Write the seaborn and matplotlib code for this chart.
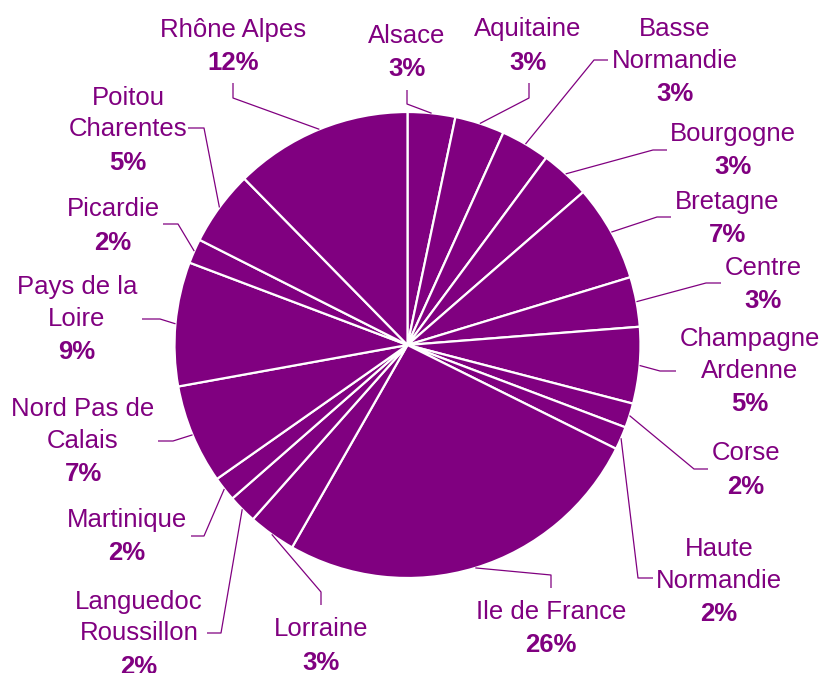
import numpy as np
import matplotlib
matplotlib.use("Agg")
import matplotlib.pyplot as plt
import seaborn as sns

W, H = 825, 673
PURPLE = "#800080"

# parts par région (sens horaire depuis midi)
regions = ["Alsace", "Aquitaine", "Basse\nNormandie", "Bourgogne", "Bretagne",
           "Centre", "Champagne\nArdenne", "Corse", "Haute\nNormandie",
           "Ile de France", "Lorraine", "Languedoc\nRoussillon", "Martinique",
           "Nord Pas de\nCalais", "Pays de la\nLoire", "Picardie",
           "Poitou\nCharentes", "Rhône Alpes"]
shares = [3.3, 3.45, 3.4, 3.45, 6.7, 3.45, 5.3, 1.7, 1.6, 25.9,
          3.3, 2.0, 1.7, 6.9, 8.6, 1.7, 5.2, 12.35]

# mise en page des étiquettes, en pixels depuis le coin haut-gauche:
# (x centre, y première ligne)
label_xy = [(407, 34), (528, 27), (675, 27), (733, 132), (727, 200),
            (763, 266), (750, 337), (746, 451), (719, 547), (551, 610),
            (321, 627), (139, 600), (127, 518), (83, 407), (77, 285),
            (113, 207), (128, 96), (233, 28)]
# traits de rappel : (coude, extrémité côté texte)
leaders = [((407, 104), (407, 90)), ((529, 98), (529, 83)),
           ((594, 60), (608, 60)), ((653, 150), (667, 150)),
           ((657, 217), (671, 217)), ((706, 283), (721, 283)),
           ((660, 371), (676, 371)), ((694, 469), (708, 469)),
           ((638, 578), (653, 578)), ((551, 575), (551, 588)),
           ((321, 592), (321, 605)), ((221, 633), (207, 633)),
           ((204, 536), (191, 536)), ((173, 441), (158, 441)),
           ((160, 319), (142, 319)), ((178, 224), (163, 224)),
           ((204, 128), (188, 128)), ((233, 98), (233, 83))]

sns.set_theme(style="white")
plt.rcParams["font.family"] = ["Liberation Sans", "DejaVu Sans"]

LINE = 31.5   # interligne du nom
PCT = 33.5    # écart nom -> pourcentage
DY = 2        # petit décalage vertical du texte
FS = 18.5

fig = plt.figure(figsize=(W / 100, H / 100), dpi=100)
ax = fig.add_axes([0, 0, 1, 1])
CX, CY, R = 407.5, H - 345, 233
wedges, _ = ax.pie(shares, center=(CX, CY), radius=R, startangle=90,
                   counterclock=False, colors=[PURPLE] * len(shares),
                   wedgeprops=dict(edgecolor="white", linewidth=1.6))
ax.set_xlim(0, W)
ax.set_ylim(0, H)
ax.set_aspect("auto")
ax.axis("off")

total = sum(shares)
for w, name, val, (lx, ly), (elbow, end) in zip(wedges, regions, shares, label_xy, leaders):
    mid = np.deg2rad((w.theta1 + w.theta2) / 2)
    rx, ry = CX + R * np.cos(mid), CY + R * np.sin(mid)
    ax.plot([rx, elbow[0], end[0]], [ry, H - elbow[1], H - end[1]],
            color=PURPLE, lw=0.9, solid_capstyle="butt")
    lines = name.split("\n")
    ly = ly + DY
    for i, ln in enumerate(lines):
        ax.text(lx, H - (ly + i * LINE), ln, ha="center", va="center",
                fontsize=FS, color=PURPLE)
    ax.text(lx, H - (ly + (len(lines) - 1) * LINE + PCT), f"{100 * val / total:.0f}%",
            ha="center", va="center", fontsize=FS, color=PURPLE, fontweight="bold")

fig.savefig("out.png", dpi=100)
